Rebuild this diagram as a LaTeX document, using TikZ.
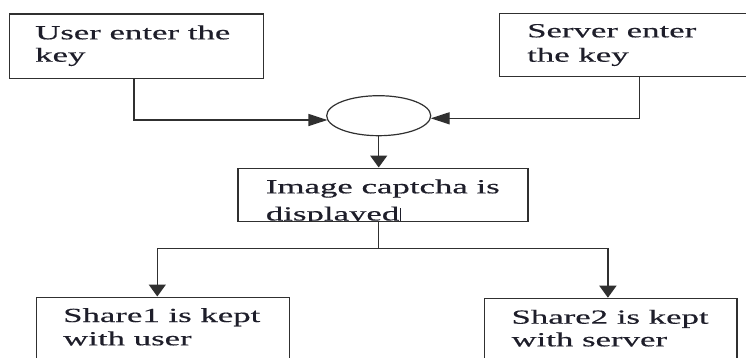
\documentclass[tikz,border=0pt]{standalone}
\usepackage{fontspec}
\setmainfont{Liberation Serif}[FakeStretch=1.74,FakeBold=0.4]
\usetikzlibrary{arrows.meta,shapes.geometric,calc}
\definecolor{ink}{HTML}{1E1E2A}
\definecolor{edge}{HTML}{303030}
\begin{document}
\begin{tikzpicture}[x=1pt,y=1pt,
  boxnode/.style={draw=edge,line width=1.2pt,inner sep=0pt,anchor=north west,rectangle},
  txt/.style={anchor=base west,inner sep=0pt,text=ink,font=\fontsize{20}{23}\selectfont},
  line/.style={draw=edge,line width=1.4pt},
  harr/.style={line,-{Triangle[length=19pt,width=12pt]}},
  varr/.style={line,-{Triangle[length=12pt,width=17pt]}}]
\clip (0,0) rectangle (746,-357);
\fill[white] (0,0) rectangle (746,-357);
% boxes
\node[boxnode,minimum width=253.7pt,minimum height=64.7pt] (user) at (9,-13.3) {};
\node[boxnode,minimum width=262pt,minimum height=63.3pt] (server) at (499,-12.7) {};
\node[ellipse,draw=edge,line width=1.2pt,minimum width=104pt,minimum height=40pt,inner sep=0pt] (ell) at (378.7,-115.7) {};
\node[boxnode,minimum width=290pt,minimum height=53.5pt] (captcha) at (237.3,-167.5) {};
\node[boxnode,minimum width=253pt,minimum height=80pt] (share1) at (35.7,-296.5) {};
\node[boxnode,minimum width=252.6pt,minimum height=80pt] (share2) at (483.7,-297.7) {};
% texts
\node[txt] (u1) at (35,-39.3) {User enter the};
\node[txt] (u2) at (35,-61.7) {key};
\node[txt] (s1) at (527,-37.3) {Server enter};
\node[txt] (s2) at (527,-61.7) {the key};
\node[txt] (c1) at (265.7,-193.3) {Image captcha is};
\begin{scope}
\clip (captcha.north west) rectangle ($(captcha.south east)+(0,1.5)$);
\node[txt] (c2) at (265.7,-220.5) {displayed\hspace{1pt}\rule[-2pt]{1.2pt}{15pt}};
\end{scope}
\node[txt] (h1) at (63,-322) {Share1 is kept};
\node[txt] (h2) at (63,-345.3) {with user};
\node[txt] (k1) at (511.3,-323.7) {Share2 is kept};
\node[txt] (k2) at (511.3,-346.3) {with server};
% connectors
\draw[harr] ($(user.south)+(-2.5,0)$) |- ($(ell.west)+(1.3,-4.3)$);
\draw[harr] ($(server.south)+(9,0)$) |- ($(ell.east)+(-0.6,-2.6)$);
\draw[varr] (ell.south) -- (ell.south |- captcha.north);
\coordinate (split) at ($(captcha.south -| ell.south)+(0,-26.5)$);
\draw[line] (captcha.south -| ell.south) -- (split);
\draw[varr] (split) -| ($(share1.north)+(-5.5,0)$);
\draw[varr] (split) -| ($(share2.north)+(-2.7,0)$);
\end{tikzpicture}
\end{document}
